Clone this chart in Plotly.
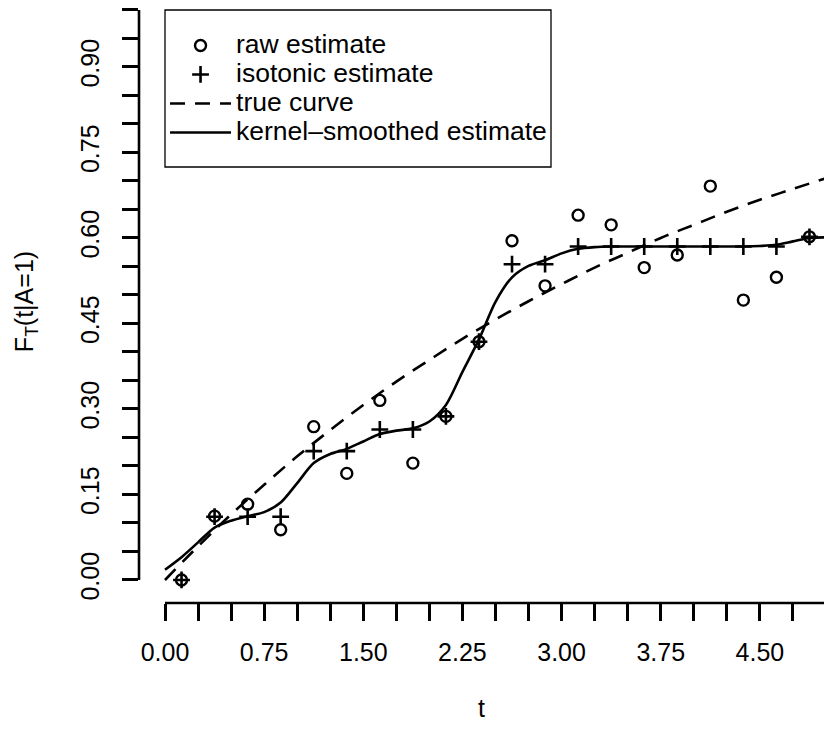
import plotly.graph_objects as go

# ---- data ----
t_points = [0.125, 0.375, 0.625, 0.875, 1.125, 1.375, 1.625, 1.875, 2.125, 2.375,
            2.625, 2.875, 3.125, 3.375, 3.625, 3.875, 4.125, 4.375, 4.625, 4.875]
raw_estimate = [0.000, 0.112, 0.133, 0.088, 0.269, 0.187, 0.315, 0.205, 0.287, 0.418,
                0.595, 0.516, 0.640, 0.623, 0.548, 0.570, 0.691, 0.491, 0.531, 0.602]
isotonic_estimate = [0.000, 0.111, 0.111, 0.111, 0.226, 0.226, 0.264, 0.264, 0.287, 0.418,
                     0.554, 0.554, 0.585, 0.585, 0.585, 0.585, 0.585, 0.585, 0.585, 0.602]

t_true = [0.00, 0.25, 0.50, 0.75, 1.00, 1.25, 1.50, 1.75, 2.00, 2.25, 2.50,
          2.75, 3.00, 3.25, 3.50, 3.75, 4.00, 4.25, 4.50, 4.75, 5.00]
true_curve = [0.000, 0.059, 0.115, 0.167, 0.217, 0.263, 0.307, 0.348, 0.386, 0.423, 0.457,
              0.489, 0.519, 0.548, 0.574, 0.600, 0.623, 0.646, 0.667, 0.686, 0.705]

t_kernel = [0.000, 0.125, 0.250, 0.375, 0.500, 0.625, 0.750, 0.875, 1.000, 1.125,
            1.250, 1.375, 1.500, 1.625, 1.750, 1.875, 2.000, 2.125, 2.250, 2.375,
            2.500, 2.625, 2.750, 2.875, 3.000, 3.125, 3.250, 3.375, 3.500, 3.625,
            3.750, 3.875, 4.000, 4.125, 4.250, 4.375, 4.500, 4.625, 4.750, 4.875, 5.000]
kernel_smoothed = [0.018, 0.040, 0.066, 0.092, 0.104, 0.112, 0.119, 0.136, 0.170, 0.205,
                   0.221, 0.230, 0.243, 0.256, 0.262, 0.266, 0.278, 0.307, 0.365, 0.422,
                   0.488, 0.531, 0.551, 0.561, 0.573, 0.581, 0.584, 0.585, 0.585, 0.585,
                   0.585, 0.585, 0.585, 0.585, 0.585, 0.585, 0.586, 0.588, 0.594, 0.600, 0.601]

legend_labels = ["raw estimate", "isotonic estimate", "true curve", "kernel\u2013smoothed estimate"]

x_ticks_major = 0.75
x_ticks_minor = 0.25
y_ticks_major = 0.15
y_ticks_minor = 0.05
x_range = [-0.1967, 4.985]
y_range = [-0.0404, 1.0175]

FONT = "Liberation Sans, Arial, Helvetica, sans-serif"
W = 2.6
TICK_FS = 25
LEG_FS = 26.5


def leg(label):
    return '<span style="font-size:%.1fpx">%s</span>' % (LEG_FS, label)


fig = go.Figure()
fig.add_trace(go.Scatter(
    x=t_points, y=raw_estimate, mode="markers", name=leg(legend_labels[0]),
    marker=dict(symbol="circle-open", size=11, color="black", line=dict(width=2.4, color="black")),
))
fig.add_trace(go.Scatter(
    x=t_points, y=isotonic_estimate, mode="markers", name=leg(legend_labels[1]),
    marker=dict(symbol="cross-thin-open", size=12, color="black", line=dict(width=2.6, color="black")),
))
fig.add_trace(go.Scatter(
    x=t_true, y=true_curve, mode="lines", name=leg(legend_labels[2]),
    line=dict(color="black", width=W, dash="15px,10px", shape="spline"),
))
fig.add_trace(go.Scatter(
    x=t_kernel, y=kernel_smoothed, mode="lines", name=leg(legend_labels[3]),
    line=dict(color="black", width=W, shape="spline", smoothing=0.8),
))

# R-style detached axis lines
fig.add_shape(type="line", xref="x", yref="paper", x0=0, x1=x_range[1], y0=0, y1=0,
              line=dict(color="black", width=W))
fig.add_shape(type="line", xref="paper", yref="y", x0=0, x1=0, y0=0, y1=1,
              line=dict(color="black", width=W))
# legend frame (R legend box)
fig.add_shape(type="rect", xref="paper", yref="paper",
              x0=26 / 685, x1=412 / 685, y0=(603 - 167) / 603, y1=(603 - 10) / 603,
              line=dict(color="black", width=1.3), fillcolor="white", layer="above")

fig.update_layout(
    width=824, height=730,
    margin=dict(l=139, r=0, t=0, b=127, pad=0),
    paper_bgcolor="white", plot_bgcolor="white",
    font=dict(family=FONT, size=TICK_FS, color="black"),
    showlegend=True,
    legend=dict(
        x=0.038, y=0.957, xanchor="left", yanchor="top",
        borderwidth=0, bgcolor="rgba(0,0,0,0)",
        font=dict(family=FONT, size=20, color="black"),
        itemwidth=61, tracegroupgap=0,
    ),
)

fig.update_xaxes(
    range=x_range, showgrid=False, zeroline=False, showline=False,
    tick0=0, dtick=x_ticks_major, tickformat=".2f",
    ticks="outside", ticklen=17, tickwidth=W, tickcolor="black",
    ticklabelstandoff=10,
    tickfont=dict(family=FONT, size=TICK_FS, color="black"),
    title=dict(text="t", standoff=34, font=dict(family=FONT, size=TICK_FS, color="black")),
    minor=dict(tick0=0, dtick=x_ticks_minor, ticks="outside", ticklen=17, tickwidth=W,
               tickcolor="black", showgrid=False),
)
fig.update_yaxes(
    range=y_range, showgrid=False, zeroline=False, showline=False,
    tick0=0, dtick=y_ticks_major, tickformat=".2f", tickangle=-90,
    ticks="outside", ticklen=16, tickwidth=W, tickcolor="black",
    ticklabelstandoff=13,
    tickfont=dict(family=FONT, size=TICK_FS, color="black"),
    title=dict(text="F<sub>T</sub>(t|A=1)", standoff=35,
               font=dict(family=FONT, size=TICK_FS, color="black")),
    minor=dict(tick0=0, dtick=y_ticks_minor, ticks="outside", ticklen=16, tickwidth=W,
               tickcolor="black", showgrid=False),
)

fig.write_html("out.html")
